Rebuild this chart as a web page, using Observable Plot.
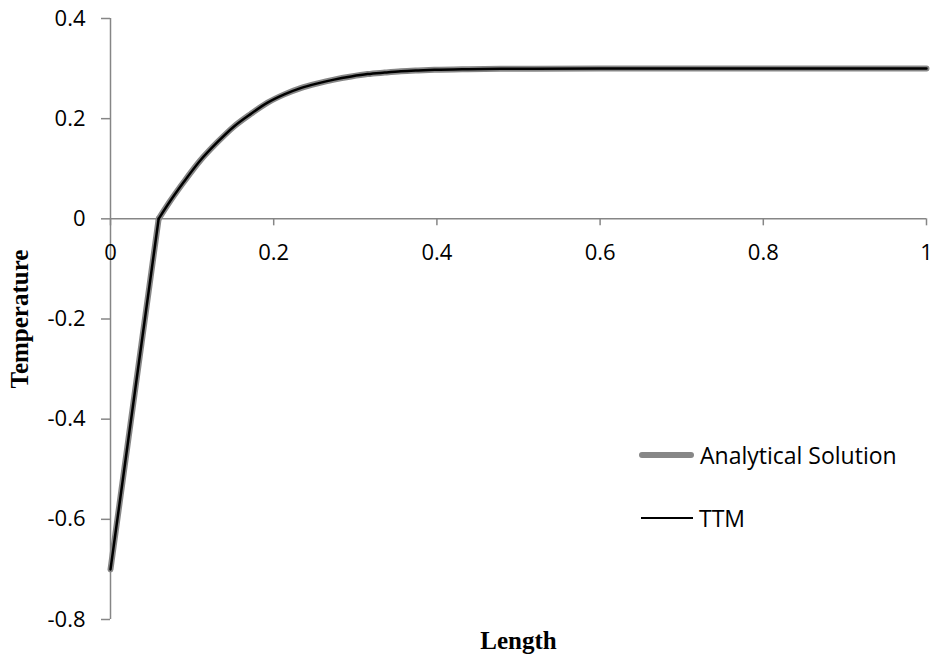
<!DOCTYPE html>
<html>
<head>
<meta charset="utf-8">
<script src="https://cdn.jsdelivr.net/npm/d3@7"></script>
<script src="https://cdn.jsdelivr.net/npm/@observablehq/plot@0.6"></script>
<style>
  html, body { margin: 0; padding: 0; background: #fff; }
  #wrap { position: relative; width: 935px; height: 657px; }
  .leg { position: absolute; font-family: "Open Sans", sans-serif; font-size: 23px; color: #000; display: flex; align-items: center; }
  .sw { display: inline-block; margin-right: 6px; }
</style>
</head>
<body>
<div id="wrap"></div>
<script>
// Data
const lengthValues = [0, 0.059, 0.0736, 0.090, 0.110, 0.131, 0.151, 0.172, 0.192, 0.213, 0.233, 0.254, 0.274, 0.295, 0.315, 0.336, 0.356, 0.377, 0.397, 0.438, 0.479, 0.52, 0.6, 0.7, 0.8, 0.9, 1.0];
const analyticalTemps = [-0.7, 0, 0.0365, 0.074, 0.1164, 0.153, 0.184, 0.2096, 0.2315, 0.2485, 0.261, 0.2705, 0.278, 0.2842, 0.289, 0.292, 0.2945, 0.2962, 0.2975, 0.2988, 0.2995, 0.2999, 0.3, 0.3, 0.3, 0.3, 0.3];
const ttmTemps = [-0.7, 0, 0.0365, 0.074, 0.1164, 0.153, 0.184, 0.2096, 0.2315, 0.2485, 0.261, 0.2705, 0.278, 0.2842, 0.289, 0.292, 0.2945, 0.2962, 0.2975, 0.2988, 0.2995, 0.2999, 0.3, 0.3, 0.3, 0.3, 0.3];
const xTicks = [0, 0.2, 0.4, 0.6, 0.8, 1];
const yTicks = [0.4, 0.2, 0, -0.2, -0.4, -0.6, -0.8];
const seriesNames = ["Analytical Solution", "TTM"];
const kinkIndex = 1; // end of the straight (solid) segment

const analytical = lengthValues.map((x, i) => ({x, y: analyticalTemps[i]}));
const ttm = lengthValues.map((x, i) => ({x, y: ttmTemps[i]}));

const axisColor = "#868686";
const fmt = d => String(+d.toFixed(1));
const serif = "'Liberation Serif', 'Times New Roman', serif";

function seriesMarks(data, stroke, strokeWidth) {
  return [
    Plot.line(data.slice(0, kinkIndex + 1), {x: "x", y: "y", stroke, strokeWidth, strokeLinejoin: "round", strokeLinecap: "round"}),
    Plot.line(data.slice(kinkIndex), {x: "x", y: "y", stroke, strokeWidth, curve: "monotone-x", strokeLinejoin: "round", strokeLinecap: "round"})
  ];
}

const chart = Plot.plot({
  width: 935,
  height: 657,
  marginTop: 18,
  marginLeft: 110,
  marginRight: 9,
  marginBottom: 38,
  style: {fontFamily: "'Open Sans', sans-serif", fontSize: "22px", color: "#000", background: "#fff", overflow: "visible"},
  x: {domain: [0, 1], axis: null},
  y: {domain: [-0.8, 0.4], axis: null},
  marks: [
    Plot.ruleX([0], {stroke: axisColor, strokeWidth: 1.5}),
    Plot.axisY(yTicks, {anchor: "left", tickSize: 9, tickPadding: 16, tickFormat: fmt, stroke: axisColor, strokeWidth: 1.5, fill: "#000", fontSize: 22, label: null}),
    Plot.ruleY([0], {stroke: axisColor, strokeWidth: 1.5}),
    Plot.ruleX(xTicks, {x: d => d, y1: 0, y2: 0, insetBottom: -7, stroke: axisColor, strokeWidth: 1.5}),
    Plot.text(xTicks, {x: d => d, y: 0, dy: 34, text: fmt, fontSize: 22, fill: "#000"}),
    ...seriesMarks(analytical, "#878787", 6),
    ...seriesMarks(ttm, "#000", 2.5),
    Plot.text(["Temperature"], {frameAnchor: "left", textAnchor: "middle", dx: -91, rotate: -90, text: d => d, fontFamily: serif, fontWeight: "bold", fontSize: 25, fill: "#000"}),
    Plot.text(["Length"], {frameAnchor: "bottom", textAnchor: "middle", dy: 29, text: d => d, fontFamily: serif, fontWeight: "bold", fontSize: 25, fill: "#000"})
  ]
});

const wrap = document.getElementById("wrap");
wrap.appendChild(chart);

// Legend
const leg1 = document.createElement("div");
leg1.className = "leg";
leg1.style.left = "639px";
leg1.style.top = "439px";
leg1.innerHTML = '<span class="sw" style="width:55px;height:6px;background:#878787;border-radius:3px"></span><span></span>';
leg1.lastChild.textContent = seriesNames[0];
wrap.appendChild(leg1);

const leg2 = document.createElement("div");
leg2.className = "leg";
leg2.style.left = "641px";
leg2.style.top = "502px";
leg2.innerHTML = '<span class="sw" style="width:52px;height:2.5px;background:#000"></span><span></span>';
leg2.lastChild.textContent = seriesNames[1];
wrap.appendChild(leg2);
</script>
</body>
</html>
